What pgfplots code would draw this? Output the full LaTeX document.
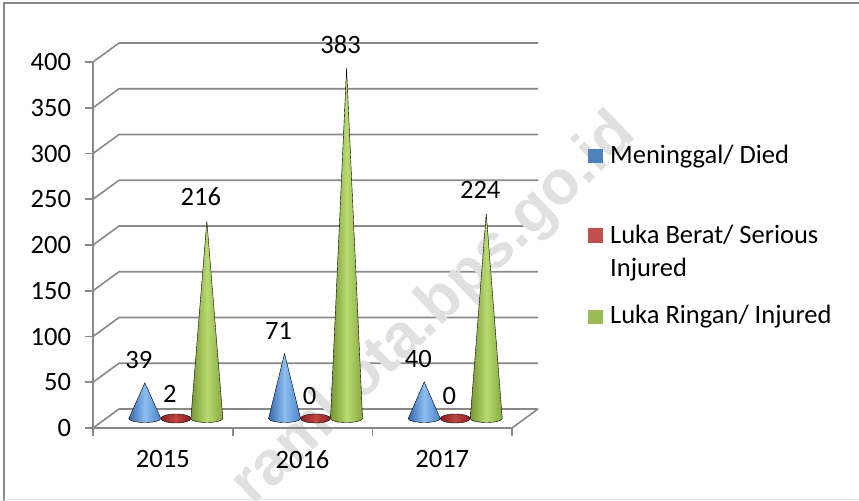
\documentclass[border=0pt]{standalone}
\usepackage{pgfplots}
\pgfplotsset{compat=1.18}
\usepackage{fontspec}
\setmainfont{Carlito}
\newfontfamily\wmfont{Liberation Sans}
\definecolor{gridgray}{RGB}{137,137,137}
\definecolor{legblue}{RGB}{79,129,189}
\definecolor{legred}{RGB}{192,80,77}
\definecolor{leggreen}{RGB}{155,187,89}
\definecolor{bluedark}{RGB}{55,104,175}
\definecolor{blueright}{RGB}{75,130,200}
\definecolor{bluelight}{RGB}{140,190,240}
\definecolor{greendark}{RGB}{118,150,50}
\definecolor{greenright}{RGB}{135,170,65}
\definecolor{greenlight}{RGB}{185,218,112}
\definecolor{reddark}{RGB}{140,30,30}
\definecolor{redlight}{RGB}{190,70,65}
\newcommand\bigfont{\fontsize{26.5bp}{31bp}\selectfont}

% cone marks: the mark sits at (category, value); the cone is drawn down to the floor
\pgfdeclareplotmark{coneblue}{%
  \pgfmathsetmacro\coneb{9.5-\val*0.915}%
  \shade[left color=bluedark,right color=blueright,middle color=bluelight]
    (-34bp,\coneb bp) -- (-18bp,9.5bp) -- (-2bp,\coneb bp)
    arc[start angle=0,end angle=-180,x radius=16bp,y radius=4bp] -- cycle;}
\pgfdeclareplotmark{conered}{%
  \pgfmathsetmacro\coneb{9.5-\val*0.915}%
  \shade[left color=reddark,right color=reddark,middle color=redlight]
    (13bp,\coneb bp) ellipse[x radius=15bp,y radius=4.5bp];}
\pgfdeclareplotmark{conegreen}{%
  \pgfmathsetmacro\coneb{9.5-\val*0.915}%
  \shade[left color=greendark,right color=greenright,middle color=greenlight]
    (28bp,\coneb bp) -- (44bp,9.5bp) -- (60bp,\coneb bp)
    arc[start angle=0,end angle=-180,x radius=16bp,y radius=4bp] -- cycle;}

\begin{document}
\begin{tikzpicture}
\useasboundingbox (-93bp,-73bp) rectangle (766bp,428bp);
% back wall grid lines and floor
\fill[white] (0bp,0bp) -- (419bp,0bp) -- (445bp,19bp) -- (26bp,19bp) -- cycle;
\foreach \v in {0,50,...,400}{
  \pgfmathsetmacro\Y{\v*0.915}
  \draw[gridgray,line width=1.6bp,line join=round] (0bp,\Y bp) -- (26bp,\Y bp+19bp) -- (445bp,\Y bp+19bp);
}
\draw[gridgray,line width=1.6bp] (419bp,0bp) -- (445bp,19bp);
% watermark
\node[rotate=44,text=black!12,font=\wmfont\bfseries\fontsize{62bp}{62bp}\selectfont] at (342bp,118bp) {ramkota.bps.go.id};
\begin{axis}[
  at={(0,0)}, anchor=south west,
  x=139.7bp, y=0.915bp,
  xmin=-0.5, xmax=2.5, ymin=0, ymax=400,
  axis lines*=left,
  axis line style={gridgray,line width=1.6bp},
  tick style={gridgray,line width=1.6bp},
  tick align=outside,
  xtick pos=left, ytick pos=left,
  major tick length=8bp,
  ytick={0,50,...,400},
  xtick={-0.5,0.5,1.5,2.5},
  xticklabels={2015,2016,2017},
  x tick label as interval,
  tick label style={font=\bigfont,text=black},
  /pgf/number format/assume math mode=true,
  yticklabel style={xshift=-10.5bp},
  xticklabel style={yshift=-11bp},
  clip=false,
  nodes near coords,
  every node near coord/.append style={font=\bigfont,anchor=center,text=black},
]
\addplot[scatter,only marks,mark=coneblue,visualization depends on={rawy\as\val},
  every node near coord/.append style={xshift=-24bp,yshift=32.5bp}]
  coordinates {(0,39) (1,71) (2,40)};
\addplot[scatter,only marks,mark=conered,visualization depends on={rawy\as\val},
  every node near coord/.append style={xshift=7bp,yshift=32.5bp}]
  coordinates {(0,2) (1,0) (2,0)};
\addplot[scatter,only marks,mark=conegreen,visualization depends on={rawy\as\val},
  every node near coord/.append style={xshift=38bp,yshift=33.5bp}]
  coordinates {(0,216) (1,383) (2,224)};
\end{axis}
% legend
\fill[legblue] (495bp,264.5bp) rectangle (510bp,278.5bp);
\node[anchor=base west,inner sep=0,font=\bigfont] at (517bp,264bp) {Meninggal/ Died};
\fill[legred] (495bp,184.7bp) rectangle (510bp,199.7bp);
\node[anchor=base west,inner sep=0,font=\bigfont] at (517bp,184bp) {Luka Berat/ Serious};
\node[anchor=base west,inner sep=0,font=\bigfont] at (517bp,151bp) {Injured};
\fill[leggreen] (495bp,104bp) rectangle (510bp,118bp);
\node[anchor=base west,inner sep=0,font=\bigfont] at (517bp,104bp) {Luka Ringan/ Injured};
% frame
\draw[gridgray,line width=1.3bp] (-89bp,-73bp) -- (-89bp,425bp) -- (770bp,425bp);
\draw[black!10,line width=1bp] (-89bp,-71bp) -- (770bp,-71bp);
\end{tikzpicture}
\end{document}
